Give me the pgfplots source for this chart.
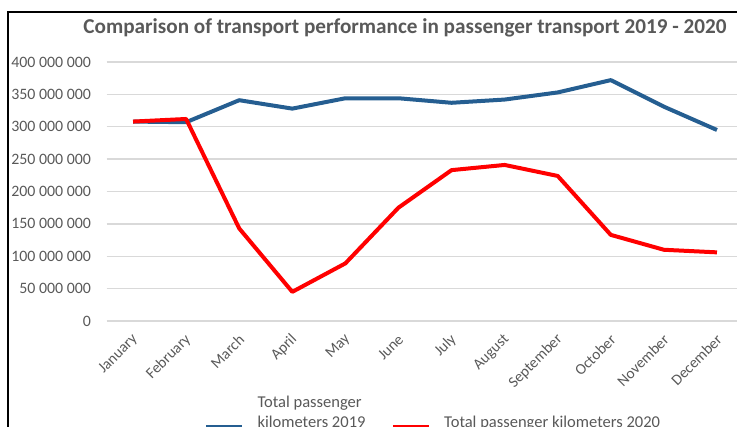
\documentclass[border=0pt]{standalone}
\usepackage{pgfplots}
\pgfplotsset{compat=1.18}
\usepackage{fontspec}
\setmainfont{Carlito}
\definecolor{txtgray}{HTML}{595959}
\definecolor{gridgray}{HTML}{D9D9D9}
\definecolor{blue19}{HTML}{255E91}
\definecolor{red20}{HTML}{FF0000}
\begin{document}
\begin{tikzpicture}
\begin{axis}[
  at={(79.875pt,79.5pt)}, anchor=south west,
  scale only axis,
  width=477.75pt, height=194.25pt,
  xmin=-0.5, xmax=11.5,
  ymin=0, ymax=400000000,
  axis line style={draw=none},
  clip=false,
  scaled y ticks=false,
  xtick={0,...,11},
  xticklabels={January,February,March,April,May,June,July,August,September,October,November,December},
  ytick={0,50000000,100000000,150000000,200000000,250000000,300000000,350000000,400000000},
  yticklabels={0,50 000 000,100 000 000,150 000 000,200 000 000,250 000 000,300 000 000,350 000 000,400 000 000},
  xmajorgrids=false,
  ymajorgrids=true,
  major grid style={draw=gridgray, line width=1.1pt},
  major tick length=0pt,
  tick style={draw=none},
  tick label style={text=txtgray},
  yticklabel style={font=\fontsize{11.9}{14}\selectfont, anchor=east, inner sep=0pt, xshift=-11.5pt},
  xticklabel style={font=\fontsize{11.5}{13}\selectfont, rotate=45, anchor=east, inner sep=0pt, yshift=-9.8pt, xshift=-7.2pt},
  legend style={at={(0.153,-0.270)}, anchor=north west, draw=none, inner sep=0pt,
    legend columns=2, font=\fontsize{12.4}{15}\selectfont, text=txtgray,
    /tikz/every odd column/.append style={column sep=8pt},
    /tikz/every even column/.append style={column sep=17pt},
    cells={anchor=base west}},
  legend image code/.code={\draw[#1] (0pt,1pt) -- (27pt,1pt);},
]
\addplot[blue19, line width=3pt, line join=round] coordinates {
(0,308000000) (1,307000000) (2,341000000) (3,328000000) (4,344000000) (5,344000000)
(6,337000000) (7,342000000) (8,353000000) (9,372000000) (10,331000000) (11,295000000)};
\addlegendentry{\begin{tabular}[b]{@{}l@{}}Total passenger\\kilometers 2019\end{tabular}}
\addplot[red20, line width=3pt, line join=round] coordinates {
(0,308000000) (1,312000000) (2,143000000) (3,45000000) (4,89000000) (5,175000000)
(6,233000000) (7,241000000) (8,224000000) (9,133000000) (10,110000000) (11,106000000)};
\addlegendentry{Total passenger kilometers 2020}
\end{axis}
\node[text=txtgray, font=\bfseries\fontsize{15.9}{18}\selectfont] at (303.75pt,299.25pt) {Comparison of transport performance in passenger transport 2019 - 2020};
\draw[black, line width=1.1pt] (6pt,0pt) -- (6pt,311.25pt) -- (570pt,311.25pt);
\pgfresetboundingbox
\path (0pt,0pt) rectangle (552.75pt,320.25pt);
\end{tikzpicture}
\end{document}
